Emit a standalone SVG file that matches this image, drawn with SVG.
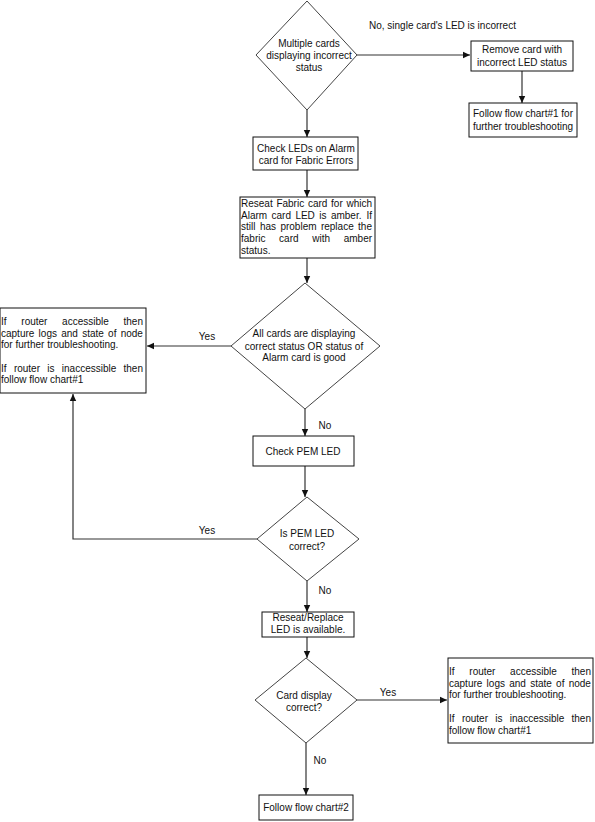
<svg xmlns="http://www.w3.org/2000/svg" width="595" height="822" viewBox="0 0 595 822">
<defs>
<marker id="arr" markerWidth="8" markerHeight="8" refX="7" refY="4" orient="auto" markerUnits="userSpaceOnUse">
<path d="M0,0.8 L7,4 L0,7.2 Z" fill="#111"/>
</marker>
<style>
.box{fill:#fff;stroke:#111;stroke-width:1}
.dia{fill:#fff;stroke:#444;stroke-width:1}
.con{fill:none;stroke:#333;stroke-width:1.2;marker-end:url(#arr)}
text{font-family:"Liberation Sans",Arial,sans-serif;font-size:10px;fill:#111}
.c{text-anchor:middle}
</style>
</defs>
<rect width="595" height="822" fill="#fff"/>
<g id="connectors">
<path class="con" d="M357,55 H470"/>
<path class="con" d="M522,71 V103"/>
<path class="con" d="M307,110 V137"/>
<path class="con" d="M307,170 V197"/>
<path class="con" d="M307,258 V283"/>
<path class="con" d="M231,346 H147"/>
<path class="con" d="M305,409 V436"/>
<path class="con" d="M305,466 V497"/>
<path class="con" d="M257,539 H73 V394"/>
<path class="con" d="M307,581 V612"/>
<path class="con" d="M307,637 V658"/>
<path class="con" d="M357,700 H447"/>
<path class="con" d="M306,743 V795"/>
</g>
<g id="labels">
<text x="369" y="29">No, single card's LED is incorrect</text>
<text class="c" x="207" y="340">Yes</text>
<text class="c" x="325" y="429">No</text>
<text class="c" x="207" y="534">Yes</text>
<text class="c" x="325" y="594">No</text>
<text class="c" x="388" y="696">Yes</text>
<text class="c" x="320" y="764">No</text>
</g>
<g id="d1">
<polygon class="dia" points="307,1 357,55 307,110 256,55"/>
<text class="c" x="309" y="47">Multiple cards</text>
<text class="c" x="309" y="59">displaying incorrect</text>
<text class="c" x="309" y="71">status</text>
</g>
<g id="remove">
<rect class="box" x="471" y="41" width="102" height="30"/>
<text class="c" x="522" y="53">Remove card with</text>
<text class="c" x="522" y="66">incorrect LED status</text>
</g>
<g id="follow1">
<rect class="box" x="469" y="103" width="108" height="34"/>
<text class="c" x="523" y="117">Follow flow chart#1 for</text>
<text class="c" x="523" y="130">further troubleshooting</text>
</g>
<g id="checkleds">
<rect class="box" x="253" y="137" width="105" height="33"/>
<text class="c" x="306" y="152">Check LEDs on Alarm</text>
<text class="c" x="306" y="164">card for Fabric Errors</text>
</g>
<g id="reseatfabric">
<rect class="box" x="240" y="197" width="135" height="61"/>
<text y="207"><tspan x="241">Reseat</tspan><tspan x="276.4">Fabric</tspan><tspan x="307.9">card</tspan><tspan x="331.1">for</tspan><tspan x="346.5">which</tspan></text>
<text y="219"><tspan x="241">Alarm</tspan><tspan x="271.5">card</tspan><tspan x="295.4">LED</tspan><tspan x="319.3">is</tspan><tspan x="330.9">amber.</tspan><tspan x="366.5">If</tspan></text>
<text y="230"><tspan x="241">still</tspan><tspan x="259.9">has</tspan><tspan x="280.4">problem</tspan><tspan x="320.9">replace</tspan><tspan x="358.1">the</tspan></text>
<text y="242"><tspan x="241">fabric</tspan><tspan x="279.1">card</tspan><tspan x="312.2">with</tspan><tspan x="343.7">amber</tspan></text>
<text x="241" y="254">status.</text>
</g>
<g id="d2">
<polygon class="dia" points="305,283 380,346 305,409 231,346"/>
<text class="c" x="304" y="337">All cards are displaying</text>
<text class="c" x="304" y="350">correct status OR status of</text>
<text class="c" x="304" y="361">Alarm card is good</text>
</g>
<g id="leftbox">
<rect class="box" x="0" y="308" width="146" height="85"/>
<text y="325"><tspan x="1">If</tspan><tspan x="21.3">router</tspan><tspan x="62.1">accessible</tspan><tspan x="123.5">then</tspan></text>
<text y="337"><tspan x="1">capture</tspan><tspan x="38.6">logs</tspan><tspan x="61.2">and</tspan><tspan x="82.2">state</tspan><tspan x="108.1">of</tspan><tspan x="120.7">node</tspan></text>
<text x="1" y="348">for further troubleshooting.</text>
<text y="372"><tspan x="1">If</tspan><tspan x="13.9">router</tspan><tspan x="47.3">is</tspan><tspan x="61.8">inaccessible</tspan><tspan x="123.5">then</tspan></text>
<text x="1" y="383">follow flow chart#1</text>
</g>
<g id="checkpem">
<rect class="box" x="253" y="436" width="101" height="30"/>
<text class="c" x="303" y="455">Check PEM LED</text>
</g>
<g id="d3">
<polygon class="dia" points="307,497 359,539 307,581 257,539"/>
<text class="c" x="307" y="537">Is PEM LED</text>
<text class="c" x="307" y="550">correct?</text>
</g>
<g id="reseatreplace">
<rect class="box" x="262" y="612" width="92" height="25"/>
<text class="c" x="308" y="621">Reseat/Replace</text>
<text class="c" x="308" y="633">LED is available.</text>
</g>
<g id="d4">
<polygon class="dia" points="306,658 357,700 306,743 255,700"/>
<text class="c" x="304" y="699">Card display</text>
<text class="c" x="304" y="711">correct?</text>
</g>
<g id="rightbox">
<rect class="box" x="448" y="658" width="145" height="85"/>
<text y="675"><tspan x="449">If</tspan><tspan x="469.3">router</tspan><tspan x="510.1">accessible</tspan><tspan x="571.5">then</tspan></text>
<text y="687"><tspan x="449">capture</tspan><tspan x="486.6">logs</tspan><tspan x="509.2">and</tspan><tspan x="530.2">state</tspan><tspan x="556.1">of</tspan><tspan x="568.7">node</tspan></text>
<text x="449" y="698">for further troubleshooting.</text>
<text y="722"><tspan x="449">If</tspan><tspan x="461.9">router</tspan><tspan x="495.3">is</tspan><tspan x="509.8">inaccessible</tspan><tspan x="571.5">then</tspan></text>
<text x="449" y="734">follow flow chart#1</text>
</g>
<g id="follow2">
<rect class="box" x="259" y="795" width="94" height="25"/>
<text class="c" x="306" y="811">Follow flow chart#2</text>
</g>
</svg>
